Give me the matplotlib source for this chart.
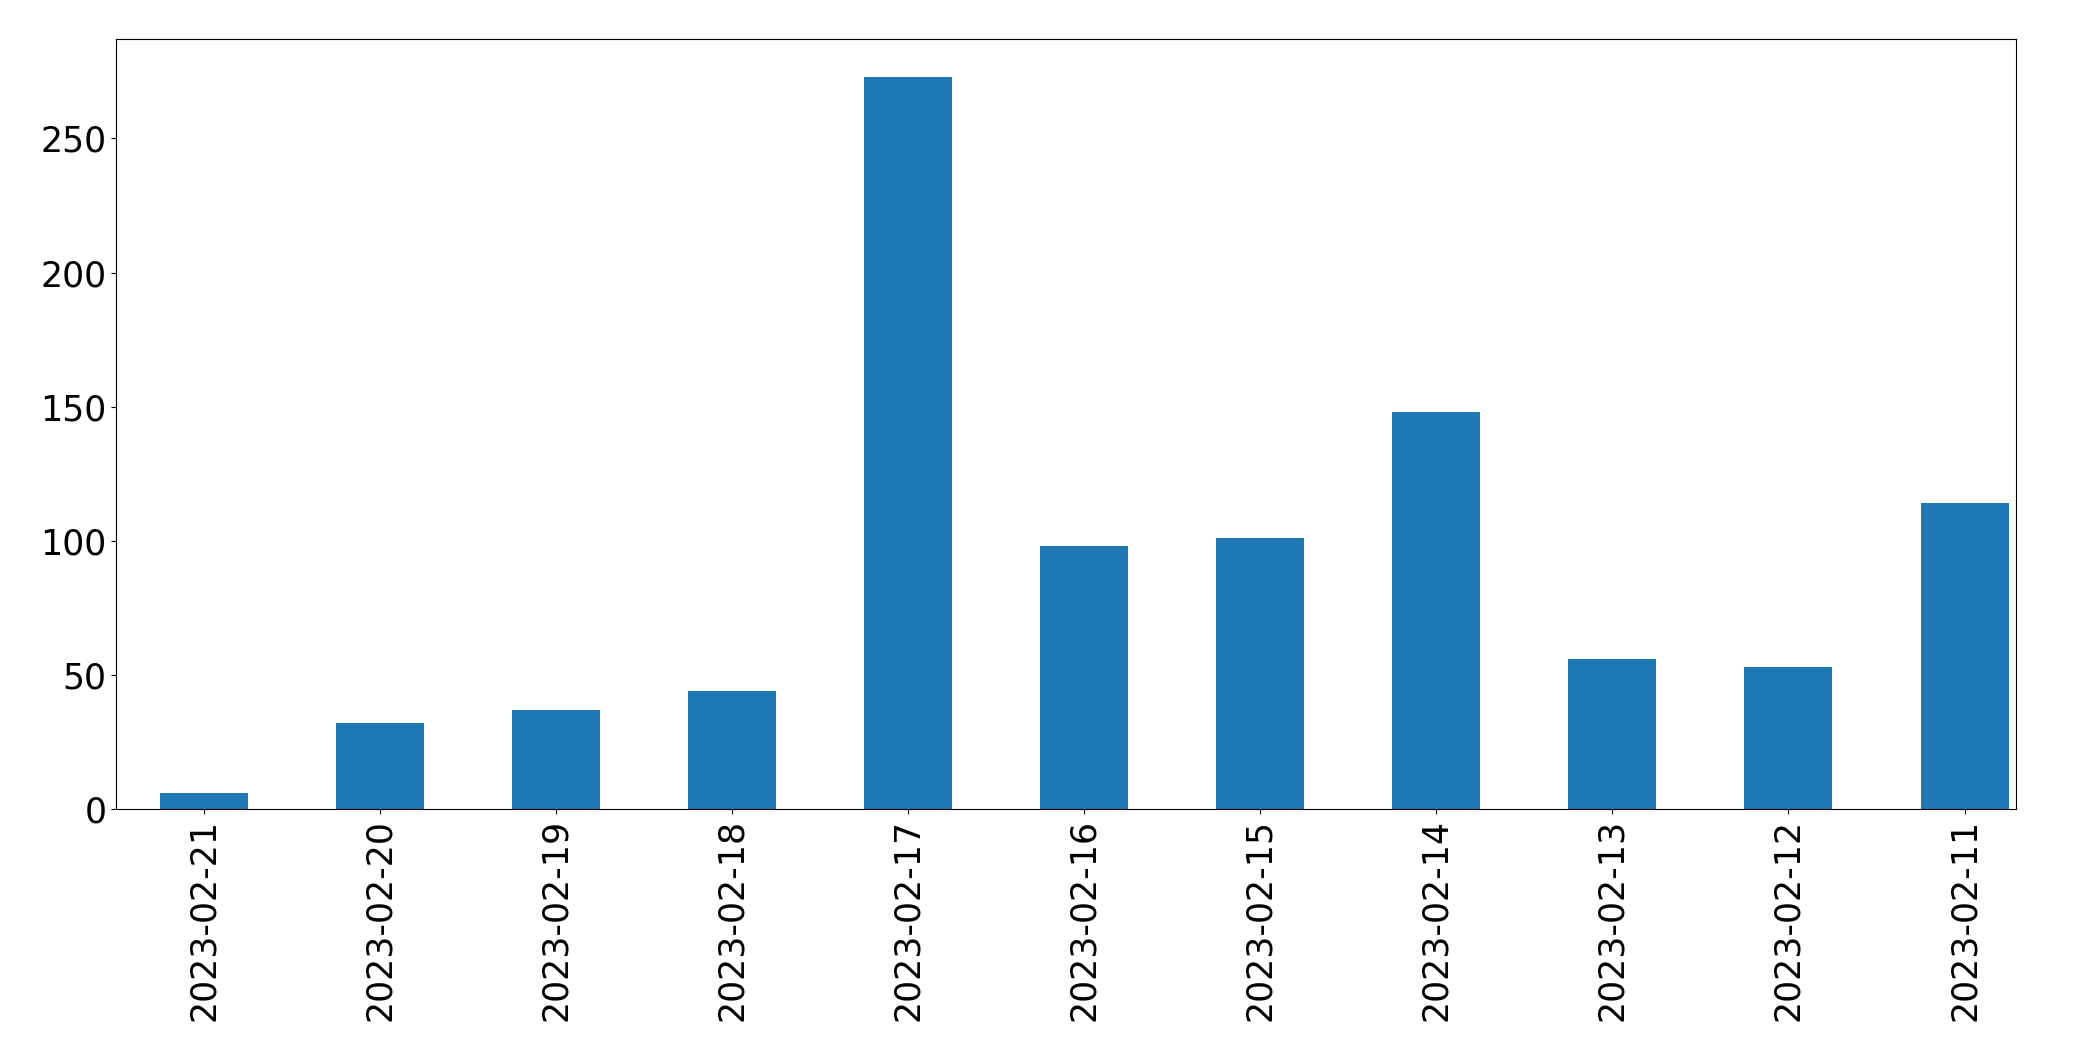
import matplotlib
matplotlib.use("Agg")
import matplotlib.pyplot as plt

dates = ["2023-02-21", "2023-02-20", "2023-02-19", "2023-02-18", "2023-02-17",
         "2023-02-16", "2023-02-15", "2023-02-14", "2023-02-13", "2023-02-12",
         "2023-02-11"]
counts = [6, 32, 37, 44, 273, 98, 101, 148, 56, 53, 114]

fig = plt.figure(figsize=(20.93, 10.61), dpi=100)
ax = fig.add_axes([0.0555, 0.2375, 0.9075, 0.7255])
ax.bar(range(len(dates)), counts, width=0.5, color="#1f77b4")
ax.set_xticks(range(len(dates)))
ax.set_xticklabels(dates, rotation=90)
ax.set_xlim(-0.5, len(dates) - 0.71)
ax.set_ylim(0, 287)
ax.tick_params(labelsize=25)
fig.savefig("out.png", dpi=100)
